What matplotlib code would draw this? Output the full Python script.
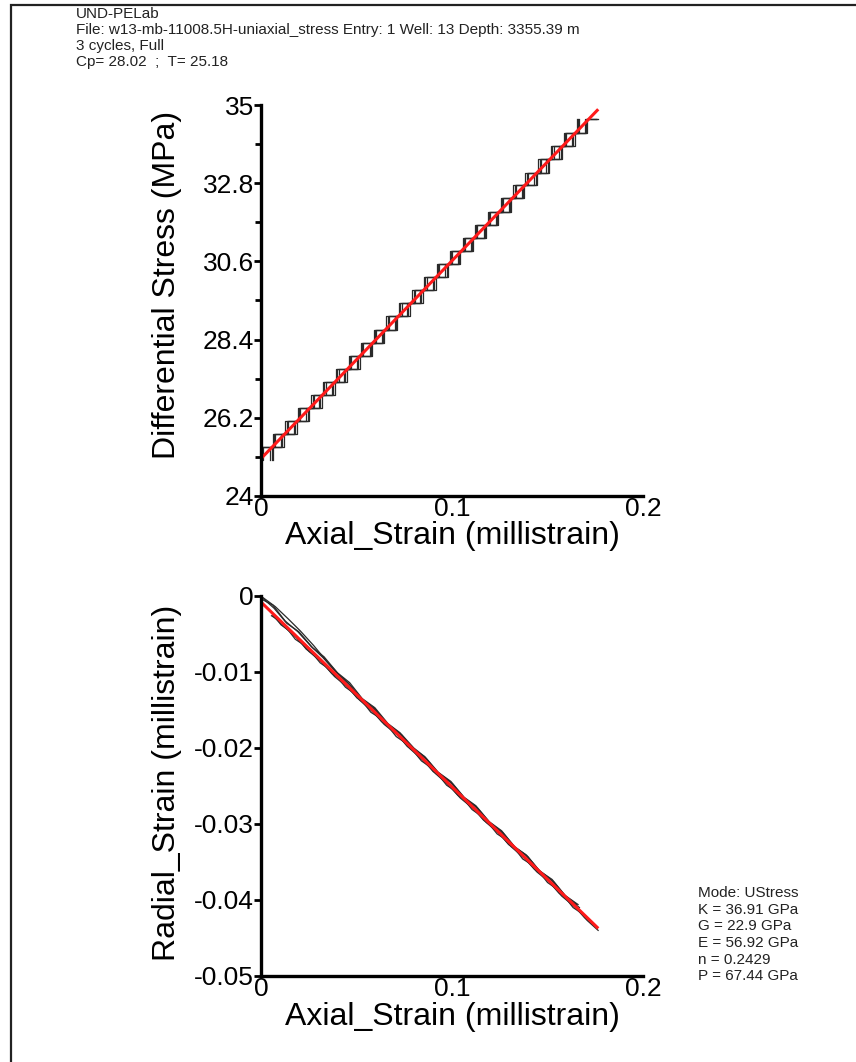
import numpy as np
import matplotlib
matplotlib.use("Agg")
import matplotlib.pyplot as plt
from matplotlib.patches import Rectangle

plt.rcParams['font.family'] = ['Liberation Sans', 'DejaVu Sans']

# header / result text
header = ["UND-PELab",
          "File: w13-mb-11008.5H-uniaxial_stress Entry: 1 Well: 13 Depth: 3355.39 m",
          "3 cycles, Full",
          "Cp= 28.02  ;  T= 25.18"]
results = ["Mode: UStress", "K = 36.91 GPa", "G = 22.9 GPa", "E = 56.92 GPa",
           "n = 0.2429", "P = 67.44 GPa"]

# stress levels (MPa), shared by all cycles
stress = [25.0, 25.37, 25.74, 26.1, 26.47, 26.85, 27.2, 27.58, 27.95, 28.3, 28.68,
          29.05, 29.42, 29.8, 30.15, 30.52, 30.9, 31.27, 31.63, 32.0, 32.38, 32.75,
          33.1, 33.48, 33.85, 34.22, 34.6]

# axial strain (millistrain) for each cycle, loading and unloading
ax_load1 = [0.000, 0.0005, 0.0068, 0.0135, 0.0198, 0.0270, 0.0330, 0.0400, 0.0464, 0.0530,
            0.0596, 0.0665, 0.0728, 0.0800, 0.0860, 0.0928, 0.0994, 0.1064, 0.1125, 0.1195,
            0.1260, 0.1328, 0.1390, 0.1460, 0.1524, 0.1592, 0.1660]
ax_unld1 = [0.0055, 0.0112, 0.0180, 0.0245, 0.0310, 0.0378, 0.0442, 0.0510, 0.0575, 0.0638,
            0.0708, 0.0772, 0.0840, 0.0908, 0.0972, 0.1037, 0.1105, 0.1172, 0.1236, 0.1303,
            0.1370, 0.1438, 0.1500, 0.1568, 0.1634, 0.1700, 0.1760]
ax_load2 = [0.000, 0.0010, 0.0075, 0.0142, 0.0206, 0.0275, 0.0338, 0.0406, 0.0472, 0.0535,
            0.0604, 0.0670, 0.0737, 0.0805, 0.0868, 0.0934, 0.1002, 0.1068, 0.1133, 0.1200,
            0.1268, 0.1334, 0.1397, 0.1465, 0.1532, 0.1598, 0.1667]
ax_unld2 = [0.0048, 0.0105, 0.0172, 0.0237, 0.0303, 0.0371, 0.0434, 0.0502, 0.0569, 0.0631,
            0.0700, 0.0766, 0.0833, 0.0901, 0.0964, 0.1030, 0.1098, 0.1165, 0.1229, 0.1296,
            0.1364, 0.1430, 0.1493, 0.1561, 0.1628, 0.1694, 0.1755]
ax_load3 = [0.000, 0.0002, 0.0062, 0.0127, 0.0193, 0.0261, 0.0324, 0.0392, 0.0459, 0.0521,
            0.0590, 0.0656, 0.0723, 0.0791, 0.0854, 0.0920, 0.0988, 0.1055, 0.1119, 0.1186,
            0.1254, 0.1320, 0.1383, 0.1451, 0.1518, 0.1584, 0.1653]
ax_unld3 = [0.0062, 0.0119, 0.0186, 0.0251, 0.0317, 0.0385, 0.0448, 0.0516, 0.0583, 0.0645,
            0.0714, 0.0780, 0.0847, 0.0915, 0.0978, 0.1044, 0.1112, 0.1179, 0.1243, 0.1310,
            0.1378, 0.1444, 0.1507, 0.1575, 0.1642, 0.1708, 0.1765]

# radial strain (millistrain) for the same samples
rad_load1 = [0.0000, -0.0002, -0.0016, -0.0036, -0.0047, -0.0068, -0.0080, -0.0101, -0.0114, -0.0135,
             -0.0147, -0.0168, -0.0180, -0.0200, -0.0212, -0.0232, -0.0244, -0.0265, -0.0276, -0.0297,
             -0.0309, -0.0330, -0.0341, -0.0362, -0.0373, -0.0394, -0.0406]
rad_unld1 = [-0.0026, -0.0035, -0.0057, -0.0068, -0.0088, -0.0100, -0.0120, -0.0132, -0.0153, -0.0163,
             -0.0185, -0.0196, -0.0217, -0.0229, -0.0249, -0.0260, -0.0281, -0.0293, -0.0313, -0.0324,
             -0.0346, -0.0357, -0.0377, -0.0389, -0.0410, -0.0421, -0.0437]
rad_load2 = [0.0000, -0.0002, -0.0014, -0.0030, -0.0046, -0.0065, -0.0084, -0.0103, -0.0119, -0.0138,
             -0.0151, -0.0171, -0.0183, -0.0204, -0.0215, -0.0235, -0.0247, -0.0267, -0.0279, -0.0299,
             -0.0312, -0.0332, -0.0343, -0.0364, -0.0376, -0.0396, -0.0410]
rad_unld2 = [-0.0020, -0.0038, -0.0050, -0.0070, -0.0082, -0.0102, -0.0113, -0.0134, -0.0146, -0.0165,
             -0.0178, -0.0198, -0.0210, -0.0231, -0.0242, -0.0262, -0.0275, -0.0295, -0.0307, -0.0327,
             -0.0339, -0.0359, -0.0371, -0.0391, -0.0403, -0.0423, -0.0436]
rad_load3 = [-0.0002, -0.0004, -0.0012, -0.0033, -0.0047, -0.0066, -0.0081, -0.0100, -0.0115, -0.0135,
             -0.0147, -0.0167, -0.0180, -0.0200, -0.0211, -0.0231, -0.0244, -0.0264, -0.0276, -0.0296,
             -0.0309, -0.0329, -0.0340, -0.0360, -0.0373, -0.0393, -0.0406]
rad_unld3 = [-0.0026, -0.0040, -0.0055, -0.0073, -0.0087, -0.0106, -0.0119, -0.0137, -0.0152, -0.0169,
             -0.0183, -0.0201, -0.0216, -0.0234, -0.0248, -0.0266, -0.0280, -0.0298, -0.0312, -0.0330,
             -0.0345, -0.0363, -0.0376, -0.0395, -0.0409, -0.0427, -0.0440]

# fitted lines (end points)
fit_x = [0.0, 0.176]
fit_stress = [25.05, 34.85]
fit_rad = [-0.0008, -0.0436]

stress_ticks = [24, 26.2, 28.4, 30.6, 32.8, 35]
stress_minor = [25.1, 27.3, 29.5, 31.7, 33.9]
rad_ticks = [0, -0.01, -0.02, -0.03, -0.04, -0.05]
strain_ticks = [0, 0.1, 0.2]

loads = [ax_load1, ax_load2, ax_load3]
unlds = [ax_unld1, ax_unld2, ax_unld3]
rloads = [rad_load1, rad_load2, rad_load3]
runlds = [rad_unld1, rad_unld2, rad_unld3]

fig = plt.figure(figsize=(8.56, 10.62), dpi=100)
ax1 = fig.add_axes([0.3049, 0.5330, 0.4463, 0.3681])
ax2 = fig.add_axes([0.3049, 0.0810, 0.4463, 0.3578])

# frame round the page
fig.patches.append(Rectangle((11 / 856, -0.05), 1.2, 1 - 5 / 1062 + 0.05,
                             transform=fig.transFigure, fill=False, lw=1.6,
                             edgecolor="#222222"))

for i in range(3):
    ax1.plot(loads[i], stress, color="#2a2a2a", lw=0.9, drawstyle="steps-post")
    ax1.plot(unlds[i][::-1], stress[::-1], color="#2a2a2a", lw=0.9, drawstyle="steps-post")
    ax2.plot(loads[i], rloads[i], color="#2a2a2a", lw=0.9)
    ax2.plot(unlds[i][::-1], runlds[i][::-1], color="#2a2a2a", lw=0.9)

ax1.plot(fit_x, fit_stress, color="#ff1a1a", lw=2.2)
ax2.plot(fit_x, fit_rad, color="#ff1a1a", lw=2.2)

ax1.set_ylim(24, 35)
ax1.set_yticks(stress_ticks)
ax1.set_yticklabels(["24", "26.2", "28.4", "30.6", "32.8", "35"])
ax1.set_yticks(stress_minor, minor=True)
ax1.set_ylabel("Differential Stress (MPa)", fontsize=23)
ax1.yaxis.set_label_coords(-0.207, 0.54)

ax2.set_ylim(-0.05, 0)
ax2.set_yticks(rad_ticks)
ax2.set_yticklabels(["0", "-0.01", "-0.02", "-0.03", "-0.04", "-0.05"])
ax2.set_ylabel("Radial_Strain (millistrain)", fontsize=23)
ax2.yaxis.set_label_coords(-0.207, 0.508)

for ax in (ax1, ax2):
    ax.set_xlim(0, 0.2)
    ax.set_xticks(strain_ticks)
    ax.set_xticklabels(["0", "0.1", "0.2"])
    ax.set_xticks([0.2], minor=True)
    ax.set_xlabel("Axial_Strain (millistrain)", fontsize=23)
    for s in ("top", "right"):
        ax.spines[s].set_visible(False)
    for s in ("left", "bottom"):
        ax.spines[s].set_linewidth(2.4)
    ax.tick_params(axis="y", which="major", direction="out", length=5, width=2,
                   labelsize=19, pad=0)
    ax.tick_params(axis="y", which="minor", direction="out", length=4, width=2)
    ax.tick_params(axis="x", which="major", length=0, labelsize=19, pad=1)
    ax.tick_params(axis="x", which="minor", direction="in", length=6, width=2)

ax1.xaxis.set_label_coords(0.5, -0.063)
ax2.xaxis.set_label_coords(0.5, -0.069)

for k, line in enumerate(header):
    fig.text(76 / 856, 1 - (14 + 16 * k) / 1062, line, fontsize=11,
             va="center", ha="left", color="#222222")
for k, line in enumerate(results):
    fig.text(698 / 856, 1 - (893 + 16.7 * k) / 1062, line, fontsize=11,
             va="center", ha="left", color="#222222")

fig.savefig("out.png", dpi=100)
